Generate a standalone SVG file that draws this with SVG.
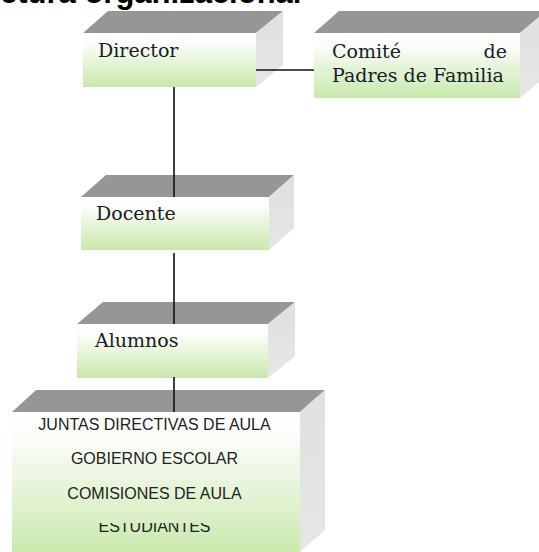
<svg xmlns="http://www.w3.org/2000/svg" width="539" height="552" viewBox="0 0 539 552">
<defs>
<linearGradient id="front" x1="0" y1="0" x2="0" y2="1">
<stop offset="0" stop-color="#ffffff"/>
<stop offset="0.2" stop-color="#fbfdf9"/>
<stop offset="1" stop-color="#c8e8ab"/>
</linearGradient>
<linearGradient id="side" x1="0" y1="0" x2="0" y2="1">
<stop offset="0" stop-color="#e0e0e0"/>
<stop offset="1" stop-color="#e6e6e6"/>
</linearGradient>
<clipPath id="clipEst"><rect x="0" y="523" width="330" height="29"/></clipPath>
</defs>
<style>
.top{fill:#969696;}
.side{fill:url(#side);}
.front{fill:url(#front);}
.lbl{font-family:"DejaVu Serif","Liberation Serif",serif;font-size:19px;fill:#1a1a2a;}
.caps{font-family:"Liberation Sans",Arial,sans-serif;font-size:16px;fill:#222222;text-anchor:middle;}
.title{font-family:"Liberation Sans",Arial,sans-serif;font-size:31px;font-weight:bold;fill:#000;}
.conn{stroke:#111;stroke-width:1.6;fill:none;}
</style>
<text class="title" x="0" y="3">ctura organizacional</text>
<g id="director">
<polygon class="top" points="83,33 108,11 283,11 256,33"/>
<polygon class="side" points="256,33 283,11 283,65 256,87"/>
<rect class="front" x="83" y="33" width="173" height="54"/>
<text class="lbl" x="98" y="57">Director</text>
</g>
<g id="comite">
<polygon class="top" points="314,33 339,11 546,11 520,33"/>
<polygon class="side" points="520,33 546,11 546,76 520,98"/>
<rect class="front" x="314" y="33" width="206" height="65"/>
<text class="lbl" x="332" y="58">Comité</text>
<text class="lbl" x="507" y="58" text-anchor="end">de</text>
<text class="lbl" x="332" y="82">Padres de Familia</text>
</g>
<g id="docente">
<polygon class="top" points="81,197 106,175 294,175 269,197"/>
<polygon class="side" points="269,197 294,175 294,228 269,250"/>
<rect class="front" x="81" y="197" width="188" height="53"/>
<text class="lbl" x="96" y="220">Docente</text>
</g>
<g id="alumnos">
<polygon class="top" points="77,324 103,302 295,302 268,324"/>
<polygon class="side" points="268,324 295,302 295,356 268,378"/>
<rect class="front" x="77" y="324" width="191" height="54"/>
<text class="lbl" x="95" y="347">Alumnos</text>
</g>
<g id="grupos">
<polygon class="top" points="12,412 36,390 325,390 300,412"/>
<polygon class="side" points="300,412 325,390 325,530 300,552"/>
<rect class="front" x="12" y="412" width="288" height="145"/>
<text class="caps" x="154.5" y="430">JUNTAS DIRECTIVAS DE AULA</text>
<text class="caps" x="154.5" y="464">GOBIERNO ESCOLAR</text>
<text class="caps" x="154.5" y="499">COMISIONES DE AULA</text>
<text class="caps" x="154.5" y="532" clip-path="url(#clipEst)">ESTUDIANTES</text>
</g>
<g id="connectors">
<line class="conn" x1="174" y1="87" x2="174" y2="197"/>
<line class="conn" x1="256" y1="70" x2="314" y2="70"/>
<line class="conn" x1="174" y1="253" x2="174" y2="324"/>
<line class="conn" x1="174" y1="377" x2="174" y2="412"/>
</g>
</svg>
